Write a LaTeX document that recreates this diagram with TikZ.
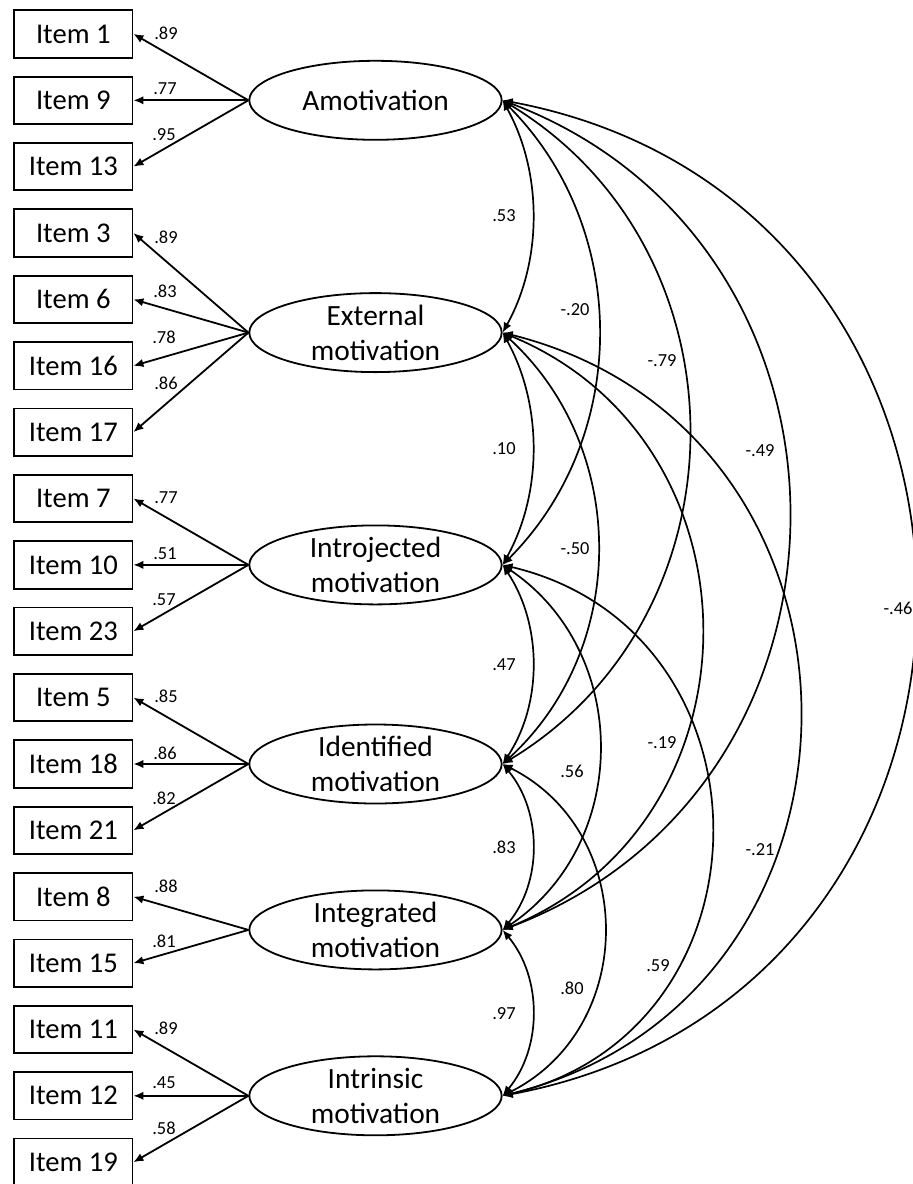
\documentclass[tikz,border=0pt]{standalone}
\usepackage{fontspec}
\setmainfont{Carlito}
\usetikzlibrary{arrows.meta,shapes.geometric}
\tikzset{
	item/.style={draw, line width=0.9pt, minimum width=59.2pt, minimum height=23.7pt, inner sep=0pt, font=\fontsize{14.3}{17}\selectfont},
	factor/.style={draw, ellipse, line width=0.9pt, minimum width=126.2pt, minimum height=39.5pt, inner sep=0pt, align=center, font=\fontsize{14.7}{17.5}\selectfont},
	load/.style={line width=0.9pt, -{Latex[length=5pt,width=4.2pt]}},
	cov/.style={line width=0.85pt, {Latex[length=5pt,width=4.2pt]}-{Latex[length=5pt,width=4.2pt]}},
	coef/.style={inner sep=0pt, font=\fontsize{9.2}{11}\selectfont}
}

\begin{document}
\begin{tikzpicture}[x=0.5pt, y=0.5pt]
	\useasboundingbox (0,0) rectangle (913,-1184);

	% Observed items
	\node (i1) at (73.3,-33.9) [item] {Item 1};
	\node (i9) at (73.3,-100.3) [item] {Item 9};
	\node (i13) at (73.3,-166.6) [item] {Item 13};
	\node (i3) at (73.3,-233.0) [item] {Item 3};
	\node (i6) at (73.3,-299.4) [item] {Item 6};
	\node (i16) at (73.3,-365.8) [item] {Item 16};
	\node (i17) at (73.3,-432.1) [item] {Item 17};
	\node (i7) at (73.3,-498.5) [item] {Item 7};
	\node (i10) at (73.3,-564.9) [item] {Item 10};
	\node (i23) at (73.3,-631.2) [item] {Item 23};
	\node (i5) at (73.3,-697.6) [item] {Item 5};
	\node (i18) at (73.3,-764.0) [item] {Item 18};
	\node (i21) at (73.3,-830.3) [item] {Item 21};
	\node (i8) at (73.3,-896.7) [item] {Item 8};
	\node (i15) at (73.3,-963.1) [item] {Item 15};
	\node (i11) at (73.3,-1029.5) [item] {Item 11};
	\node (i12) at (73.3,-1095.8) [item] {Item 12};
	\node (i19) at (73.3,-1162.2) [item] {Item 19};

	% Latent factors
	\node (amo) at (375.5,-100.3) [factor] {Amotivation};
	\node (ext) at (375.5,-332.6) [factor] {External\\motivation};
	\node (intro) at (375.5,-564.9) [factor] {Introjected\\motivation};
	\node (ident) at (375.5,-764.0) [factor] {Identified\\motivation};
	\node (integ) at (375.5,-929.9) [factor] {Integrated\\motivation};
	\node (intr) at (375.5,-1095.8) [factor] {Intrinsic\\motivation};

	% Factor loadings
	\draw[load] (amo.west) -- (i1.east);
	\draw[load] (amo.west) -- (i9.east);
	\draw[load] (amo.west) -- (i13.east);
	\draw[load] (ext.west) -- (i3.east);
	\draw[load] (ext.west) -- (i6.east);
	\draw[load] (ext.west) -- (i16.east);
	\draw[load] (ext.west) -- (i17.east);
	\draw[load] (intro.west) -- (i7.east);
	\draw[load] (intro.west) -- (i10.east);
	\draw[load] (intro.west) -- (i23.east);
	\draw[load] (ident.west) -- (i5.east);
	\draw[load] (ident.west) -- (i18.east);
	\draw[load] (ident.west) -- (i21.east);
	\draw[load] (integ.west) -- (i8.east);
	\draw[load] (integ.west) -- (i15.east);
	\draw[load] (intr.west) -- (i11.east);
	\draw[load] (intr.west) -- (i12.east);
	\draw[load] (intr.west) -- (i19.east);

	% Loading values
	\node (l1) at (166,-33) [coef] {.89};
	\node (l9) at (165,-89) [coef] {.77};
	\node (l13) at (164,-135) [coef] {.95};
	\node (l3) at (166,-237) [coef] {.89};
	\node (l6) at (165,-291) [coef] {.83};
	\node (l16) at (164,-337) [coef] {.78};
	\node (l17) at (166,-383) [coef] {.86};
	\node (l7) at (166,-497.5) [coef] {.77};
	\node (l10) at (165,-554) [coef] {.51};
	\node (l23) at (164,-599.6) [coef] {.57};
	\node (l5) at (166,-696.6) [coef] {.85};
	\node (l18) at (165,-753) [coef] {.86};
	\node (l21) at (164,-798.7) [coef] {.82};
	\node (l8) at (166,-886) [coef] {.88};
	\node (l15) at (164,-941) [coef] {.81};
	\node (l11) at (166,-1028) [coef] {.89};
	\node (l12) at (164,-1083) [coef] {.45};
	\node (l19) at (164,-1128) [coef] {.58};

	% Correlations between factors
	\draw[cov] (amo.east) to[bend left=29.0, looseness=0.91] (ext.east);
	\draw[cov] (ext.east) to[bend left=29.0, looseness=0.91] (intro.east);
	\draw[cov] (intro.east) to[bend left=33.5, looseness=0.93] (ident.east);
	\draw[cov] (ident.east) to[bend left=39.8, looseness=0.96] (integ.east);
	\draw[cov] (integ.east) to[bend left=39.8, looseness=0.96] (intr.east);
	\draw[cov] (amo.east) to[bend left=44.9, looseness=1.00] (intro.east);
	\draw[cov] (ext.east) to[bend left=47.5, looseness=1.02] (ident.east);
	\draw[cov] (intro.east) to[bend left=56.0, looseness=1.09] (integ.east);
	\draw[cov] (ident.east) to[bend left=63.2, looseness=1.17] (intr.east);
	\draw[cov] (amo.east) to[bend left=58.8, looseness=1.12] (ident.east);
	\draw[cov] (ext.east) to[bend left=67.6, looseness=1.23] (integ.east);
	\draw[cov] (intro.east) to[bend left=76.7, looseness=1.38] (intr.east);
	\draw[cov] (amo.east) to[bend left=69.2, looseness=1.26] (integ.east);
	\draw[cov] (ext.east) to[bend left=76.0, looseness=1.37] (intr.east);
	\draw[cov] (amo.east) to[bend left=79.4, looseness=1.44] (intr.east);

	% Correlation values
	\node (r12) at (504,-216) [coef] {.53};
	\node (r23) at (504,-449) [coef] {.10};
	\node (r34) at (504,-665) [coef] {.47};
	\node (r45) at (504,-847) [coef] {.83};
	\node (r56) at (504,-1014) [coef] {.97};
	\node (r13) at (575,-310) [coef] {-.20};
	\node (r24) at (575,-549) [coef] {-.50};
	\node (r35) at (572,-771) [coef] {.56};
	\node (r46) at (572,-988) [coef] {.80};
	\node (r14) at (662,-361) [coef] {-.79};
	\node (r25) at (662,-743) [coef] {-.19};
	\node (r36) at (658,-966) [coef] {.59};
	\node (r15) at (760,-451) [coef] {-.49};
	\node (r26) at (760,-850) [coef] {-.21};
	\node (r16) at (898,-608) [coef] {-.46};
\end{tikzpicture}
\end{document}
